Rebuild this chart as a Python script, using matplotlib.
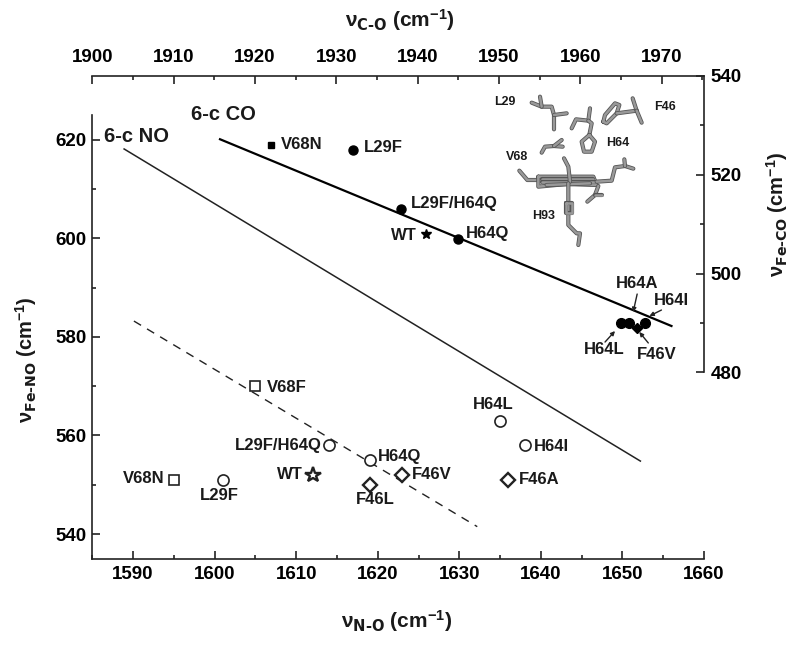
import matplotlib
matplotlib.use('Agg')
import matplotlib.pyplot as plt
from matplotlib.ticker import MultipleLocator
from matplotlib.transforms import offset_copy

plt.rcParams['font.family'] = ['Liberation Sans', 'DejaVu Sans']
plt.rcParams['font.weight'] = 'bold'
plt.rcParams['mathtext.default'] = 'regular'

# 6-c CO data, top and right axes
co_line_x = [1915.7, 1971.2]
co_line_y = [527.2, 489.4]
co_names = ['V68N', 'L29F', 'L29F/H64Q', 'WT', 'H64Q', 'H64A', 'H64I', 'H64L', 'F46V']
co_x = [1922, 1932, 1938, 1941, 1945, 1966, 1968, 1965, 1967]
co_y = [526, 525, 513, 508, 507, 490, 490, 490, 489]
co_markers = ['s', 'o', 'o', '*', 'o', 'o', 'o', 'o', 'D']
co_sizes = [5, 6.5, 6.5, 7, 6.5, 7, 7, 7, 5]
co_offsets = [(10, 1), (11, 3), (9, 6), (-9, -1), (8, 6), (-13, 40), (8, 23), (-37, -26), (0, -27)]
co_align = ['left', 'left', 'left', 'right', 'left', 'left', 'left', 'left', 'left']

# arrow tail and head, in pixels from the point
co_arrows = {'H64A': ((8, 29), (4, 11)), 'H64I': ((16, 13), (4, 7)),
             'H64L': ((-16, -19), (-6, -8)), 'F46V': ((11, -15), (2, -4))}

# 6-c NO data, bottom and left axes
no_line_x = [1588.9, 1652.2]
no_line_y = [618.1, 554.8]
dash_line_x = [1590.1, 1632.2]
dash_line_y = [583.2, 541.5]
no_names = ['V68F', 'L29F/H64Q', 'V68N', 'L29F', 'WT', 'H64Q', 'F46L', 'F46V', 'F46A', 'H64L', 'H64I']
no_x = [1605, 1614, 1595, 1601, 1612, 1619, 1619, 1623, 1636, 1635, 1638]
no_y = [570, 558, 551, 551, 552, 555, 550, 552, 551, 563, 558]
no_markers = ['s', 'o', 's', 'o', '*', 'o', 'D', 'D', 'D', 'o', 'o']
no_sizes = [6.5, 8, 6.5, 8, 11.5, 8, 7, 7, 7, 8, 8]
no_offsets = [(11, -1), (-7, 0), (-9, 1), (-23, -16), (-10, 0), (8, 4), (-14, -15), (10, 0), (11, 0), (-27, 16), (9, -1)]
no_align = ['left', 'right', 'right', 'left', 'right', 'left', 'left', 'left', 'left', 'left', 'left']

# stick model of the heme pocket, in pixels of the 720x600 inset box
sticks = [
    [(155, 128), (185, 140), (215, 140), (222, 165), (222, 208)],
    [(222, 165), (260, 160)],
    [(180, 110), (185, 140)],
    [(275, 205), (288, 178), (325, 182), (330, 145)],
    [(325, 182), (335, 190), (328, 225)],
    [(328, 225), (345, 245), (335, 275), (312, 275), (305, 245), (328, 225)],
    [(370, 185), (375, 165), (405, 130), (418, 135), (410, 160), (380, 190), (370, 185)],
    [(410, 160), (470, 152)],
    [(470, 152), (458, 115)],
    [(470, 152), (485, 188)],
    [(185, 278), (195, 260), (222, 258), (248, 260)],
    [(222, 258), (245, 240)],
    [(118, 332), (142, 360), (175, 360)],
    [(175, 350), (240, 350), (340, 350), (350, 375), (260, 372), (175, 380), (175, 350)],
    [(185, 358), (340, 358)],
    [(185, 366), (345, 366)],
    [(200, 375), (330, 370)],
    [(350, 365), (395, 362), (405, 322), (435, 318), (460, 326)],
    [(435, 318), (433, 298)],
    [(355, 378), (345, 405), (322, 425)],
    [(345, 405), (365, 405)],
    [(252, 295), (265, 320), (270, 365)],
    [(265, 370), (265, 495), (290, 520), (300, 520), (295, 555)],
    [(258, 430), (275, 430), (275, 460), (258, 460), (258, 430)],
]
stick_names = ['L29', 'F46', 'H64', 'V68', 'H93']
stick_label_x = [42, 523, 378, 78, 156]
stick_label_y = [126, 140, 248, 291, 467]

W, H = 800, 647
left, right, top, bottom = 92.3, 704, 76, 558.7

fig = plt.figure(figsize=(W / 100, H / 100), dpi=100)
rect = [left / W, 1 - bottom / H, (right - left) / W, (bottom - top) / H]
ax = fig.add_axes(rect)
ax2 = fig.add_axes(rect, facecolor='none')

ax.set_xlim(1585, 1660)
ax.set_ylim(535, 632.9)
ax2.set_xlim(1900, 1975.2)
ax2.set_ylim(442.3, 540)

ax.spines['top'].set_visible(False)
ax.spines['right'].set_visible(False)
ax2.spines['bottom'].set_visible(False)
ax2.spines['left'].set_visible(False)
ax.spines['left'].set_bounds(535, 625)
ax2.spines['right'].set_bounds(480, 540)
ax2.xaxis.tick_top()
ax2.yaxis.tick_right()
for a in [ax, ax2]:
    for s in a.spines.values():
        s.set_linewidth(1.2)
        s.set_color('#222222')
    a.xaxis.set_major_locator(MultipleLocator(10))
    a.xaxis.set_minor_locator(MultipleLocator(5))
    a.yaxis.set_major_locator(MultipleLocator(20))
    a.yaxis.set_minor_locator(MultipleLocator(10))
    a.tick_params(which='major', direction='in', length=6, width=1.2, labelsize=13.5, color='#222222')
    a.tick_params(which='minor', direction='in', length=3.2, width=1.2, color='#222222')
ax.set_xticks(range(1590, 1661, 10))
ax.set_yticks(range(540, 621, 20))
ax.set_yticks([550, 570, 590, 610], minor=True)
ax2.set_yticks(range(480, 541, 20))
ax2.set_yticks([490, 510, 530], minor=True)
ax.tick_params(axis='x', pad=5)
ax.tick_params(axis='y', pad=4)
ax2.tick_params(axis='x', pad=7)
ax2.tick_params(axis='y', pad=5)

# lines
ax.plot(no_line_x, no_line_y, color='#222222', lw=1.1)
ax.plot(dash_line_x, dash_line_y, color='#222222', lw=1.0, dashes=(6, 5))
ax2.plot(co_line_x, co_line_y, color='black', lw=1.6)

# points
for i in range(len(no_names)):
    ax.plot(no_x[i], no_y[i], no_markers[i], ms=no_sizes[i], mfc='white', mec='#222222',
            mew=1.7 if no_markers[i] in ['D', '*'] else 1.2)
    ax.annotate(no_names[i], (no_x[i], no_y[i]), xytext=no_offsets[i], textcoords='offset pixels',
                ha=no_align[i], va='center', fontsize=12, color='#1a1a1a')

for i in range(len(co_names)):
    ax2.plot(co_x[i], co_y[i], co_markers[i], ms=co_sizes[i], color='black')
    ax2.annotate(co_names[i], (co_x[i], co_y[i]), xytext=co_offsets[i], textcoords='offset pixels',
                 ha=co_align[i], va='center', fontsize=12, color='#1a1a1a')
    if co_names[i] in co_arrows:
        tail, head = co_arrows[co_names[i]]
        ax2.annotate('', (co_x[i], co_y[i]),
                     xycoords=offset_copy(ax2.transData, fig=fig, x=head[0], y=head[1], units='dots'),
                     xytext=(tail[0] - head[0], tail[1] - head[1]), textcoords='offset pixels',
                     arrowprops=dict(arrowstyle='-|>', lw=1, color='#222222', mutation_scale=6,
                                     shrinkA=0, shrinkB=0))

ax.text(1586.4, 620.7, '6-c NO', fontsize=14.5, va='center', color='#1a1a1a')
ax2.text(1912.1, 532.3, '6-c CO', fontsize=14.5, va='center', color='#1a1a1a')

# axis titles
fig.text(397 / W, 1 - 621 / H, r'ν$_{\text{N-O}}$ (cm$^{-1}$)', fontsize=15, ha='center', va='center', color='#1a1a1a')
fig.text(400 / W, 1 - 20 / H, r'ν$_{\text{C-O}}$ (cm$^{-1}$)', fontsize=15, ha='center', va='center', color='#1a1a1a')
fig.text(26 / W, 1 - 360 / H, r'ν$_{\text{Fe-NO}}$ (cm$^{-1}$)', fontsize=14.5, rotation=90, ha='center', va='center', color='#1a1a1a')
fig.text(777 / W, 1 - 214 / H, r'ν$_{\text{Fe-CO}}$ (cm$^{-1}$)', fontsize=14.5, rotation=90, ha='center', va='center', color='#1a1a1a')

# inset structure
inset = fig.add_axes([480 / W, 1 - 260 / H, 240 / W, 200 / H], facecolor='none')
inset.set_xlim(0, 720)
inset.set_ylim(600, 0)
inset.axis('off')
for s in sticks:
    xs = [p[0] for p in s]
    ys = [p[1] for p in s]
    inset.plot(xs, ys, color='#555555', lw=3, solid_capstyle='round')
    inset.plot(xs, ys, color='#999999', lw=1.8, solid_capstyle='round')
for i in range(len(stick_names)):
    inset.text(stick_label_x[i], stick_label_y[i], stick_names[i], fontsize=9, va='center', color='#1a1a1a')

plt.savefig('out.png', dpi=100)
